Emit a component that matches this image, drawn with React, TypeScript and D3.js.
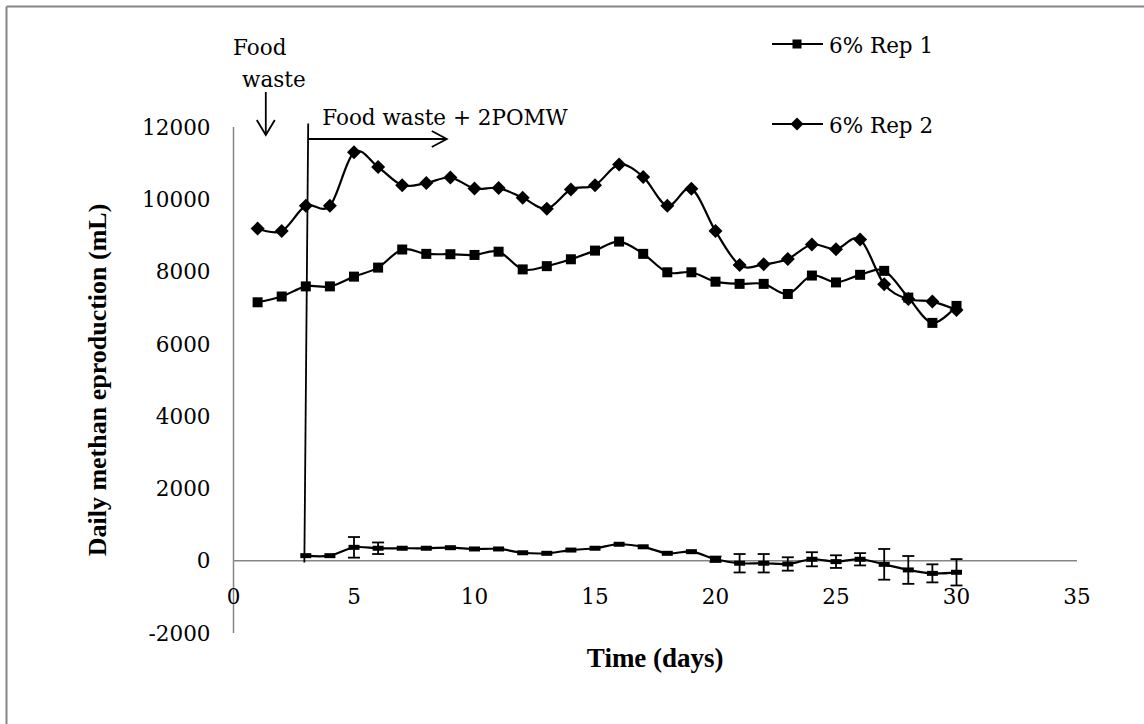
import React from "react";
import * as d3 from "d3";

// Daily methane production, two replicates plus difference series
const days = [1, 2, 3, 4, 5, 6, 7, 8, 9, 10, 11, 12, 13, 14, 15, 16, 17, 18, 19, 20, 21, 22, 23, 24, 25, 26, 27, 28, 29, 30];
const rep1 = [7150, 7310, 7590, 7590, 7860, 8110, 8610, 8490, 8480, 8460, 8550, 8060, 8150, 8340, 8580, 8830, 8490, 7980, 7980, 7720, 7660, 7660, 7380, 7890, 7700, 7910, 8020, 7280, 6580, 7050];
const rep2 = [9190, 9120, 9820, 9820, 11300, 10890, 10390, 10450, 10600, 10300, 10310, 10040, 9740, 10270, 10390, 10960, 10620, 9820, 10290, 9120, 8180, 8200, 8350, 8750, 8620, 8890, 7650, 7240, 7170, 6940];

const diffDays = [3, 4, 5, 6, 7, 8, 9, 10, 11, 12, 13, 14, 15, 16, 17, 18, 19, 20, 21, 22, 23, 24, 25, 26, 27, 28, 29, 30];
const diffValues = [140, 140, 370, 345, 345, 345, 360, 325, 325, 220, 205, 295, 345, 455, 385, 205, 250, 40, -70, -70, -90, 40, -25, 40, -100, -255, -350, -320];
const diffErrors = [0, 0, 285, 160, 0, 0, 0, 0, 0, 0, 0, 0, 0, 0, 0, 0, 0, 75, 255, 255, 185, 195, 175, 170, 425, 385, 250, 365];

const xTicks = [0, 5, 10, 15, 20, 25, 30, 35];
const yTicks = [-2000, 0, 2000, 4000, 6000, 8000, 10000, 12000];

const legendItems = ["6% Rep 1", "6% Rep 2"];

const AXIS = "#868686";
const SERIF = "'DejaVu Serif', serif";
const BOLD = "'Liberation Serif', 'Times New Roman', serif";
const FS = 21.5;

export default function App() {
  const width = 1144;
  const height = 724;
  const x = d3.scaleLinear().domain([0, 35]).range([233.5, 1077]);
  const y = d3.scaleLinear().domain([-2000, 12000]).range([633, 127]);

  const line = d3
    .line<[number, number]>()
    .x((d) => x(d[0]))
    .y((d) => y(d[1]))
    .curve(d3.curveCardinal.tension(0));

  const rep1Pts = days.map((d, i) => [d, rep1[i]] as [number, number]);
  const rep2Pts = days.map((d, i) => [d, rep2[i]] as [number, number]);
  const diffPts = diffDays.map((d, i) => [d, diffValues[i]] as [number, number]);

  const square = (cx: number, cy: number, s: number, key: string) => (
    <rect key={key} x={cx - s / 2} y={cy - s / 2} width={s} height={s} fill="#000" />
  );
  const diamond = (cx: number, cy: number, r: number, key: string) => (
    <path key={key} d={`M${cx},${cy - r}L${cx + r},${cy}L${cx},${cy + r}L${cx - r},${cy}Z`} fill="#000" />
  );

  const x0 = x(0);
  const y0 = y(0);

  return (
    <svg width={width} height={height} style={{ position: "absolute", left: 0, top: 0 }}>
      <rect x={0} y={0} width={width} height={height} fill="#fff" />
      {/* chart frame */}
      <line x1={6.5} y1={6.5} x2={width} y2={6.5} stroke={AXIS} strokeWidth={2} />
      <line x1={6.5} y1={6.5} x2={6.5} y2={height} stroke={AXIS} strokeWidth={2} />

      {/* axes */}
      <line x1={x0} y1={y(12000)} x2={x0} y2={y(-2000)} stroke={AXIS} strokeWidth={1.5} />
      <line x1={x0} y1={y0} x2={x(35)} y2={y0} stroke={AXIS} strokeWidth={1.5} />

      {yTicks.map((t) => (
        <text key={"y" + t} x={x0 - 23} y={y(t)} dy="0.36em" textAnchor="end" fontFamily={SERIF} fontSize={FS} fill="#000">
          {t}
        </text>
      ))}
      {xTicks.map((t) => (
        <text key={"x" + t} x={x(t)} y={y0 + 36} dy="0.36em" textAnchor="middle" fontFamily={SERIF} fontSize={FS} fill="#000">
          {t}
        </text>
      ))}

      <text x={x(17.5)} y={667} textAnchor="middle" fontFamily={BOLD} fontWeight="bold" fontSize={27} fill="#000">
        Time (days)
      </text>
      <text
        transform={`translate(106,${y(5000)}) rotate(-90)`}
        textAnchor="middle"
        fontFamily={BOLD}
        fontWeight="bold"
        fontSize={26}
        fill="#000"
      >
        Daily methan eproduction (mL)
      </text>

      {/* series lines */}
      <path d={line(rep1Pts) || ""} fill="none" stroke="#000" strokeWidth={2.2} />
      <path d={line(rep2Pts) || ""} fill="none" stroke="#000" strokeWidth={2.2} />
      <path d={line(diffPts) || ""} fill="none" stroke="#000" strokeWidth={2.2} />

      {/* markers */}
      {rep1Pts.map((p, i) => square(x(p[0]), y(p[1]), 10, "s" + i))}
      {rep2Pts.map((p, i) => diamond(x(p[0]), y(p[1]), 7, "d" + i))}

      {/* error bars on the difference series */}
      {diffPts.map((p, i) => {
        const e = diffErrors[i];
        if (!e) return null;
        const cx = x(p[0]);
        const top = y(p[1] + e);
        const bot = y(p[1] - e);
        return (
          <g key={"e" + i} stroke="#000" strokeWidth={1.8}>
            <line x1={cx} y1={top} x2={cx} y2={bot} />
            <line x1={cx - 6} y1={top} x2={cx + 6} y2={top} />
            <line x1={cx - 6} y1={bot} x2={cx + 6} y2={bot} />
          </g>
        );
      })}
      {diffPts.map((p, i) => (
        <rect key={"m" + i} x={x(p[0]) - 5.5} y={y(p[1]) - 2.5} width={11} height={5} fill="#000" />
      ))}

      {/* feeding annotations */}
      <text x={233} y={55} fontFamily={SERIF} fontSize={FS} fill="#000">Food</text>
      <text x={242} y={87} fontFamily={SERIF} fontSize={FS} fill="#000">waste</text>
      <g stroke="#000" strokeWidth={1.8} fill="none">
        <line x1={x(1.34)} y1={92} x2={x(1.34)} y2={135} />
        <polyline points={`${x(1.34) - 9},${120} ${x(1.34)},${135} ${x(1.34) + 9},${120}`} />
        <line x1={x(3.1)} y1={y(12100)} x2={x(2.94)} y2={y(-50)} />
        <line x1={x(3.1)} y1={139} x2={x(8.85)} y2={139} />
        <polyline points={`${x(8.85) - 15},${131} ${x(8.85)},${139} ${x(8.85) - 15},${147}`} />
      </g>
      <text x={x(3.1) + 14} y={125} fontFamily={SERIF} fontSize={FS} fill="#000">
        Food waste + 2POMW
      </text>

      {/* legend */}
      {legendItems.map((label, i) => {
        const ly = 44 + i * 80;
        return (
          <g key={label}>
            <line x1={772} y1={ly} x2={823} y2={ly} stroke="#000" strokeWidth={2.2} />
            {i === 0 ? square(797, ly, 9, "ls") : diamond(797, ly, 6.5, "ld")}
            <text x={829} y={ly + 9} fontFamily={SERIF} fontSize={FS} fill="#000">
              {label}
            </text>
          </g>
        );
      })}
    </svg>
  );
}
